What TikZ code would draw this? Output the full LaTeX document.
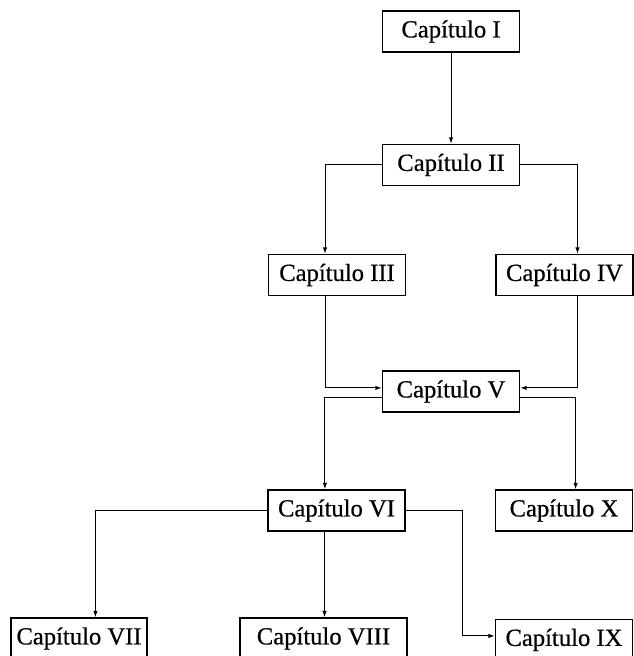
\documentclass[tikz,border=0pt]{standalone}
\usepackage{fontspec}
\setmainfont{Liberation Serif}
\newfontfamily\capfont{Liberation Serif}[FakeBold=0.6]
\usepackage{tikz}
\usetikzlibrary{arrows.meta, positioning}

\begin{document}
\begin{tikzpicture}[
    x=0.025cm, y=-0.025cm,
    chapter/.style={rectangle, draw, line width=1pt, minimum width=3.425cm, minimum height=1.025cm, inner sep=0pt, font=\capfont\fontsize{17.5}{20}\selectfont},
    arrow/.style={-{Latex[length=1.6mm, width=1.1mm]}, line width=0.7pt}
]
\useasboundingbox (0,0) rectangle (633,656);

\node[chapter] (cap1) at (451,31.5) {Capítulo I};
\node[chapter, below=2.275cm of cap1] (cap2) {Capítulo II};
\node[chapter] (cap3) at (337,275) {Capítulo III};
\node[chapter, right=2.225cm of cap3] (cap4) {Capítulo IV};
\node[chapter] (cap5) at (451,391.5) {Capítulo V};
\node[chapter] (cap6) at (336.5,510.5) {Capítulo VI};
\node[chapter, right=2.225cm of cap6] (cap10) {Capítulo X};
\node[chapter, minimum width=3.4cm] (cap7) at (79,638.5) {Capítulo VII};
\node[chapter, minimum width=4.175cm] (cap8) at (323.5,638.5) {Capítulo VIII};
\node[chapter, below=2.175cm of cap10] (cap9) {Capítulo IX};

\draw[arrow] (cap1) -- (cap2);
\draw[arrow] (cap2.west) -| ([xshift=-0.3cm]cap3.north);
\draw[arrow] (cap2.east) -| ([xshift=0.325cm]cap4.north);
\draw[arrow] ([xshift=-0.3cm]cap3.south) |- ([yshift=0.09cm]cap5.west);
\draw[arrow] ([xshift=0.325cm]cap4.south) |- ([yshift=0.09cm]cap5.east);
\draw[arrow] ([yshift=-0.14cm]cap5.west) -| ([xshift=-0.29cm]cap6.north);
\draw[arrow] ([yshift=-0.14cm]cap5.east) -| ([xshift=0.29cm]cap10.north);
\draw[arrow] (cap6.west) -| ([xshift=0.41cm]cap7.north);
\draw[arrow] ([xshift=-0.3cm]cap6.south) -- ([xshift=-0.3cm]cap6.south |- cap8.north);
\draw[arrow] (cap6.east) -- ++(1.425cm,0) |- ([yshift=0.1cm]cap9.west);
\end{tikzpicture}
\end{document}
